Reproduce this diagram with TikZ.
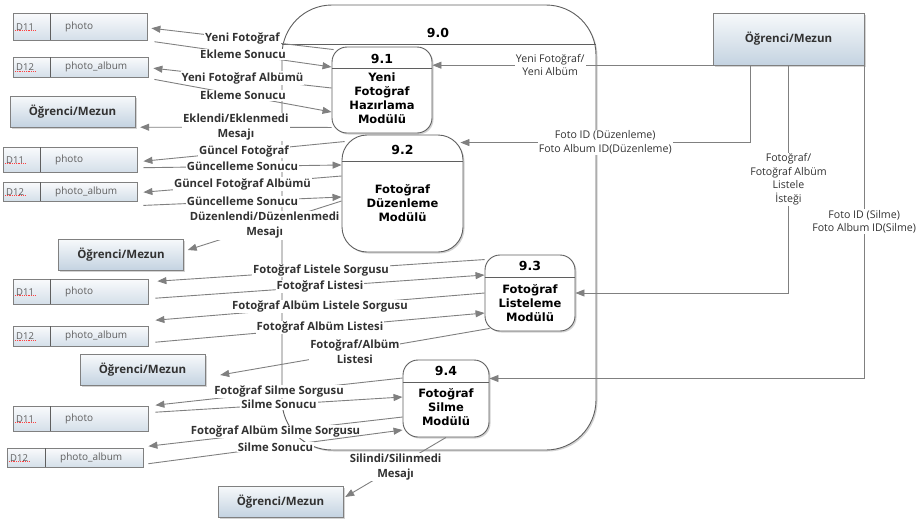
\documentclass[tikz,border=0pt]{standalone}
\usepackage{fontspec}
\setmainfont{Open Sans}
\newfontfamily\procfont{DejaVu Sans}
\usetikzlibrary{arrows.meta,positioning,calc,shadows}
\definecolor{linegray}{RGB}{128,128,128}
\definecolor{edgegray}{RGB}{95,95,95}
\definecolor{inkgray}{RGB}{50,50,50}
\definecolor{boxtop}{RGB}{247,249,251}
\definecolor{boxbot}{RGB}{196,211,225}
\definecolor{storetop}{RGB}{249,250,252}
\definecolor{storebot}{RGB}{212,223,233}
\tikzset{proc/.style={draw=edgegray,fill=white,rounded corners=15pt,line width=0.9pt,drop shadow={shadow xshift=1.5pt,shadow yshift=-1.5pt,opacity=0.35}},
  pnum/.style={font=\procfont\bfseries\fontsize{12.5}{14}\selectfont},
  ptext/.style={font=\procfont\bfseries\fontsize{11.5}{14}\selectfont,align=center},
  entity/.style={draw=linegray,top color=boxtop,bottom color=boxbot,minimum width=125pt,minimum height=31pt,font=\bfseries\fontsize{11.5}{13}\selectfont,text=inkgray,drop shadow={shadow xshift=1.5pt,shadow yshift=-1.5pt,opacity=0.35}},
  store/.style={draw=linegray,top color=storetop,bottom color=storebot,inner sep=0pt,drop shadow={shadow xshift=1pt,shadow yshift=-1pt,opacity=0.3}},
  idtext/.style={font=\fontsize{9.5}{11}\selectfont,text=edgegray,inner sep=1pt},
  stext/.style={font=\fontsize{10}{12}\selectfont,text=edgegray,inner sep=0pt},
  flow/.style={-{Triangle[length=9pt,width=7pt]},draw=linegray,line width=0.9pt},
  lbl/.style={fill=white,inner sep=1pt,font=\bfseries\fontsize{11.3}{15}\selectfont,text=inkgray,align=center},
  rlbl/.style={lbl,font=\fontsize{10.6}{13.5}\selectfont}}
\begin{document}
\begin{tikzpicture}[x=1pt,y=-1pt]
\useasboundingbox (0,0) rectangle (922,523);
% ana surec 9.0
\node[proc,rounded corners=50pt,minimum width=314pt,minimum height=445pt] (p0) at (439,227.5) {};
\draw[edgegray,line width=0.9pt] (p0.west |- 0,44) -- (p0.east |- 0,44);
\node[pnum] (p0num) at (438,33) {9.0};
% alt surecler
\node[proc,minimum width=100pt,minimum height=86pt] (p1) at (382,90) {};
\draw[edgegray,line width=0.9pt] (p1.west |- 0,68) -- (p1.east |- 0,68);
\node[pnum] (p1num) at (382,59) {9.1};
\node[ptext] (p1txt) at (382,98) {Yeni\\Fotoğraf\\Hazırlama\\Modülü};
\node[proc,rounded corners=25pt,minimum width=121pt,minimum height=117pt] (p2) at (402.5,193.5) {};
\draw[edgegray,line width=0.9pt] (p2.west |- 0,161) -- (p2.east |- 0,161);
\node[pnum] (p2num) at (402.5,150) {9.2};
\node[ptext] (p2txt) at (402.5,203) {Fotoğraf\\Düzenleme\\Modülü};
\node[proc,minimum width=90pt,minimum height=76pt] (p3) at (530,293) {};
\draw[edgegray,line width=0.9pt] (p3.west |- 0,277) -- (p3.east |- 0,277);
\node[pnum] (p3num) at (530,266) {9.3};
\node[ptext] (p3txt) at (530,303) {Fotoğraf\\Listeleme\\Modülü};
\node[proc,minimum width=86pt,minimum height=77pt] (p4) at (446,398.5) {};
\draw[edgegray,line width=0.9pt] (p4.west |- 0,382) -- (p4.east |- 0,382);
\node[pnum] (p4num) at (446,371) {9.4};
\node[ptext] (p4txt) at (446,407) {Fotoğraf\\Silme\\Modülü};
% dis varliklar
\node[entity,minimum width=151pt,minimum height=52pt] (e0) at (788.5,39) {Öğrenci/Mezun};
\node[entity] (e1) at (72.5,111.5) {Öğrenci/Mezun};
\node[entity] (e2) at (121,254.5) {Öğrenci/Mezun};
\node[entity] (e3) at (142.5,370) {Öğrenci/Mezun};
\node[entity] (e4) at (280.5,501.5) {Öğrenci/Mezun};
% veri depolari
\foreach \n/\x/\y/\w/\h/\d/\id/\t in {s1/13/13/134pt/27pt/37pt/D11/photo,s2/13/57/135pt/20pt/37pt/D12/photo\_album,
  s3/3/147/134pt/25pt/37pt/D11/photo,s4/3/182/134pt/19pt/37pt/D12/photo\_album,
  s5/13/279/135pt/25pt/37pt/D11/photo,s6/13/326/135pt/20pt/37pt/D12/photo\_album,
  s7/13/406/135pt/25pt/37pt/D11/photo,s8/7/448/136pt/19pt/38pt/D12/photo\_album}{
  \node[store,minimum width=\w,minimum height=\h,anchor=north west] (\n) at (\x,\y) {};
  \draw[edgegray] ([xshift=\d]\n.north west) -- ([xshift=\d]\n.south west);
  \node[idtext,anchor=west] (\n-id) at ([xshift=2pt]\n.west) {\id};
  \draw[red!75,densely dotted,line width=0.8pt] ([yshift=0.5pt]\n-id.south west) -- ([yshift=0.5pt]\n-id.south east);
  \node[stext,anchor=west] (\n-txt) at ([xshift={\d+15pt}]\n.west) {\t};
}
% 9.1 akislari
\draw[flow] ([xshift=2pt,yshift=-3pt]p1.north west) -- node[lbl]{Yeni Fotoğraf} ([xshift=4pt,yshift=-1.5pt]s1.east);
\draw[flow] ([xshift=7pt,yshift=-15pt]s1.east) -- node[lbl]{Ekleme Sonucu} ([yshift=23pt]p1.west);
\draw[flow] ([yshift=2pt]p1.west) -- node[lbl]{Yeni Fotoğraf Albümü} ([xshift=5pt,yshift=-1pt]s2.east);
\draw[flow] ([xshift=6pt,yshift=-2pt]s2.south east) -- node[lbl]{Ekleme Sonucu} ([yshift=-22pt]p1.west);
\draw[flow] ([yshift=6pt]p1.south west) -- node[lbl]{Eklendi/Eklenmedi\\Mesajı} ([xshift=5pt]e1.south east);
\draw[flow] (e0.south west) -- node[rlbl,pos=0.58]{Yeni Fotoğraf/\\Yeni Albüm} (e0.south west -| p1.east);
% 9.2 akislari
\draw[flow] ([xshift=3pt,yshift=-7pt]p2.north west) -- node[lbl]{Güncel Fotoğraf} ([xshift=6pt,yshift=-1.5pt]s3.east);
\draw[flow] ([xshift=6pt,yshift=-8pt]s3.east) -- node[lbl]{Güncelleme Sonucu} ([yshift=28.5pt]p2.west);
\draw[flow] ([yshift=17.5pt]p2.west) -- node[lbl]{Güncel Fotoğraf Albümü} ([xshift=6pt,yshift=-0.5pt]s4.east);
\draw[flow] ([xshift=6pt,yshift=-4pt]s4.south east) -- node[lbl]{Güncelleme Sonucu} ([yshift=-3.5pt]p2.west);
\draw[flow] ([yshift=-7.5pt]p2.west) -- node[lbl]{Düzenlendi/Düzenlenmedi\\Mesajı} ([xshift=4pt,yshift=4.5pt]e2.east);
\draw[flow] ([xshift=-38.5pt]e0.south) |- node[rlbl,pos=0.75]{Foto ID (Düzenleme)\\Foto Album ID(Düzenleme)} ([xshift=-3pt,yshift=-8pt]p2.north east);
% 9.3 akislari
\draw[flow] ([yshift=-5pt]p3.north west) -- node[lbl]{Fotoğraf Listele Sorgusu} ([xshift=9pt,yshift=10.5pt]s5.east);
\draw[flow] ([xshift=7pt,yshift=-6.5pt]s5.east) -- node[lbl]{Fotoğraf Listesi} ([yshift=18pt]p3.west);
\draw[flow] (p3.west) -- node[lbl]{Fotoğraf Albüm Listele Sorgusu} ([xshift=7pt,yshift=16pt]s6.east);
\draw[flow] ([xshift=7pt,yshift=-6pt]s6.east) -- node[lbl]{Fotoğraf Albüm Listesi} ([yshift=-20pt]p3.west);
\draw[flow] ([xshift=5pt,yshift=3pt]p3.south west) -- node[lbl]{Fotoğraf/Albüm\\Listesi} ([xshift=15pt,yshift=-5pt]e3.east);
\draw[flow] (e0.south) |- node[rlbl,pos=0.25]{Fotoğraf/\\Fotoğraf Albüm\\Listele\\İsteği} (p3.east);
% 9.4 akislari
\draw[flow] ([yshift=20.5pt]p4.west) -- node[lbl]{Fotoğraf Silme Sorgusu} ([xshift=7pt,yshift=13.5pt]s7.east);
\draw[flow] ([xshift=7pt,yshift=6.5pt]s7.east) -- node[lbl]{Silme Sonucu} ([yshift=1.5pt]p4.west);
\draw[flow] ([yshift=-18.5pt]p4.west) -- node[lbl]{Fotoğraf Albüm Silme Sorgusu} ([xshift=5pt,yshift=11.5pt]s8.east);
\draw[flow] ([xshift=5pt,yshift=-6pt]s8.east) -- node[lbl]{Silme Sonucu} ([yshift=-31.5pt]p4.west);
\draw[flow] (p4.south) -- node[lbl]{Silindi/Silinmedi\\Mesajı} ([xshift=2pt,yshift=4.5pt]e4.east);
\draw[flow] (e0.south east) |- node[rlbl,pos=0.25]{Foto ID (Silme)\\Foto Album ID(Silme)} ([yshift=20pt]p4.east);
\end{tikzpicture}
\end{document}
